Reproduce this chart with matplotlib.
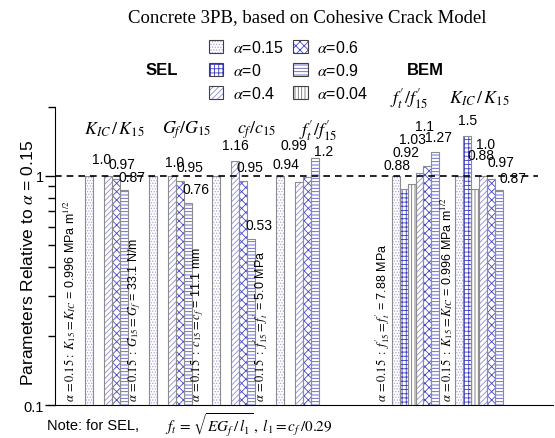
import matplotlib.pyplot as plt
from matplotlib.patches import Patch
from matplotlib.legend_handler import HandlerTuple
from matplotlib.ticker import LogLocator, NullFormatter, FixedLocator, FixedFormatter
import numpy as np

plt.rcParams.update({
    "font.family": "Liberation Sans",
    "mathtext.fontset": "stix",
    "hatch.linewidth": 0.6,
})

# alpha values, in the order the bars sit inside a group
alphas = ["0.15", "0", "0.04", "0.4", "0.6", "0.9"]

# SEL results relative to alpha = 0.15 (nan = not computed)
sel_K = [1.0, np.nan, np.nan, 1.0, 0.97, 0.87]
sel_G = [1.0, np.nan, np.nan, 1.0, 0.95, 0.76]
sel_c = [1.0, np.nan, np.nan, 1.16, 0.95, 0.53]
sel_f = [1.0, np.nan, np.nan, 0.94, 0.99, 1.2]

# BEM results relative to alpha = 0.15
bem_f = [1.0, 0.88, 0.92, 1.03, 1.1, 1.27]
bem_K = [1.0, 1.5, 0.88, 1.0, 0.97, 0.87]

headers = [r"$K_{IC}\,/\,K_{15}$", r"$G_f/G_{15}$", r"$c_f/c_{15}$",
           r"$f_t'/f_{15}'$", r"$f_t'/f_{15}'$", r"$K_{IC}\,/\,K_{15}$"]
ref_notes = [
    r"$\alpha\,\mathrm{=0.15:}\ K_{15}=K_{IC}$ = 0.996 MPa m$^{1/2}$",
    r"$\alpha\,\mathrm{=0.15}\ :\ G_{15}=G_f$ = 33.1 N/m",
    r"$\alpha\,\mathrm{=0.15}\ :\ c_{15}=c_f$ = 11.1 mm",
    r"$\alpha\,\mathrm{=0.15}\ :\ f_{15}'=f_t'$ = 5.0 MPa",
    r"$\alpha\,\mathrm{=0.15}\ :\ f_{15}'=f_t'$ = 7.88 MPa",
    r"$\alpha\,\mathrm{=0.15}\ :\ K_{15}=K_{IC}$ = 0.996 MPa m$^{1/2}$",
]

# left edge of each alpha's bar inside a group (in bar widths)
sel_slots = [2.2, 3.2, 3.6, 4.6, 5.6, 6.6]
bem_slots = [0.8, 1.8, 2.8, 3.8, 4.8, 5.8]

# (values, group slot, bar slots, note x offset, header x offset, header y)
groups = [
    (sel_K, 0, sel_slots, 0.2, 5.9, 1.6),
    (sel_G, 1, sel_slots, 0.3, 7.0, 1.6),
    (sel_c, 2, sel_slots, 0.3, 7.8, 1.6),
    (sel_f, 3, sel_slots, 0.3, 7.5, 1.6),
    (bem_f, 5, bem_slots, -0.3, 3.0, 2.2),
    (bem_K, 6, bem_slots, -0.25, 3.9, 2.2),
]

# label offsets (pixels) from the top of each bar
label_pos = {
    (0, "0.4"): (-7, 10), (0, "0.6"): (6, 8), (0, "0.9"): (8, 6),
    (1, "0.4"): (3, 7), (1, "0.6"): (10, 7), (1, "0.9"): (8, 7),
    (2, "0.4"): (0, 9), (2, "0.6"): (7, 7), (2, "0.9"): (8, 7),
    (3, "0.4"): (-13, 11), (3, "0.6"): (-13, 25), (3, "0.9"): (9, 0),
    (4, "0"): (-7, 17), (4, "0.04"): (-6, 25), (4, "0.4"): (-7, 27),
    (4, "0.6"): (-3, 33), (4, "0.9"): (3, 8),
    (5, "0"): (0, 9), (5, "0.04"): (6, 27), (5, "0.4"): (3, 25),
    (5, "0.6"): (10, 10), (5, "0.9"): (14, 5),
}

styles = {
    "0.15": dict(hatch="......", color="#a8a8e0"),
    "0":    dict(hatch="++++", color="#3c3cc0"),
    "0.04": dict(hatch="|||||", color="#6e6e6e"),
    "0.4":  dict(hatch="//////", color="#8c8cd8"),
    "0.6":  dict(hatch="xxxx", color="#4646cc"),
    "0.9":  dict(hatch="-----", color="#5a5ac8"),
}
edge = "#8c8c8c"

fig = plt.figure(figsize=(5.55, 4.39), dpi=100)
ax = fig.add_axes([0.099, 0.075, 0.897, 0.679])
ax.set_yscale("log")

for gi, (vals, g, slots, nx, hx, hy) in enumerate(groups):
    base = 8 * g
    xs = base + np.array(slots) + 0.5
    for k, a in enumerate(alphas):
        v = vals[k]
        if np.isnan(v):
            continue
        st = styles[a]
        ax.bar(xs[k], v, width=1, facecolor="white", edgecolor=st["color"],
               hatch=st["hatch"], linewidth=0, zorder=2)
        ax.bar(xs[k], v, width=1, fill=False, edgecolor=edge, linewidth=0.8, zorder=3)
        if (gi, a) in label_pos:
            dx, dy = label_pos[(gi, a)]
            txt = f"{v:.1f}" if v == int(v) else f"{v:g}"
            ax.annotate(txt, (xs[k], v), xytext=(dx, dy), textcoords="offset pixels",
                        ha="center", va="bottom", fontsize=10, zorder=5)
    ax.text(base + nx, 0.104, ref_notes[gi], rotation=90, ha="center", va="bottom",
            fontsize=9, zorder=4)
    ax.text(base + hx, hy, headers[gi], ha="center", va="center", fontsize=13,
            clip_on=False)

ax.axhline(1, xmax=0.97, color="black", lw=1.2, ls=(0, (4, 3)), zorder=6)

ax.set_xlim(-1.64, 61.1)
ax.set_ylim(0.1, 2)
ax.set_xticks([])
ax.yaxis.set_major_locator(FixedLocator([0.1, 1]))
ax.yaxis.set_major_formatter(FixedFormatter(["0.1", "1"]))
ax.yaxis.set_minor_locator(LogLocator(base=10, subs=np.arange(2, 10)))
ax.yaxis.set_minor_formatter(NullFormatter())
ax.tick_params(axis="y", which="major", length=7, width=1, labelsize=10.5, pad=1)
ax.tick_params(axis="y", which="minor", length=5, width=1)
ax.spines["top"].set_visible(False)
ax.spines["right"].set_visible(False)
ax.set_ylabel(r"Parameters Relative to $\alpha$ = 0.15", fontsize=12.5)
ax.yaxis.set_label_coords(-0.038, 0.48)

# legend with hatched swatches and a dark outline on top
handles = []
for a in ["0.15", "0", "0.4", "0.6", "0.9", "0.04"]:
    st = styles[a]
    handles.append((Patch(facecolor="white", edgecolor=st["color"], hatch=st["hatch"], lw=0),
                    Patch(fill=False, edgecolor="#404040", lw=0.8)))
labels = [rf"$\alpha$={a}" for a in ["0.15", "0", "0.4", "0.6", "0.9", "0.04"]]
fig.legend(handles, labels, ncol=2, loc="center", bbox_to_anchor=(0.52, 0.838),
           frameon=False, fontsize=11.5, handlelength=0.9, handleheight=0.9,
           handletextpad=0.6, columnspacing=0.6, labelspacing=0.45,
           handler_map={tuple: HandlerTuple(ndivide=1, pad=0)})

fig.text(0.553, 0.961, "Concrete 3PB, based on Cohesive Crack Model",
         family="Liberation Serif", fontsize=13.5, ha="center", va="center")
fig.text(0.292, 0.84, "SEL", fontweight="bold", fontsize=12, ha="center", va="center")
fig.text(0.766, 0.84, "BEM", fontweight="bold", fontsize=12, ha="center", va="center")

fig.text(0.085, 0.03, "Note: for SEL,", fontsize=10.5, ha="left", va="center")
fig.text(0.297, 0.03, r"$f_t\,=\,\sqrt{EG_f\,/\,l_1}\,,\ l_1=c_f\,/0.29$",
         fontsize=11, ha="left", va="center")

fig.savefig("out.png", dpi=100)
